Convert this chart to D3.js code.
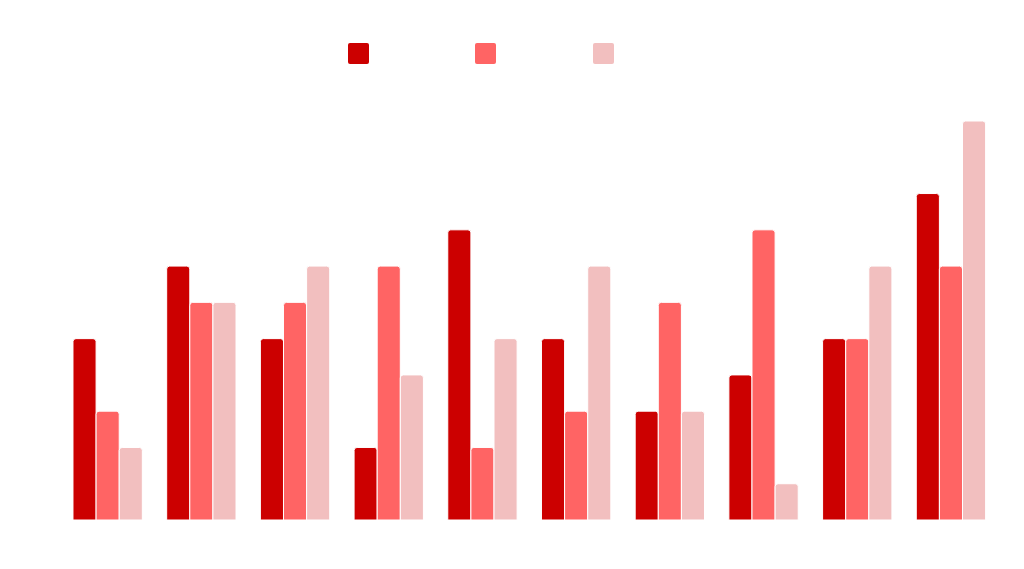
<!DOCTYPE html>
<html><head><meta charset="utf-8">
<script src="https://cdn.jsdelivr.net/npm/d3@7"></script>
<style>html,body{margin:0;padding:0;background:#fff;}svg{display:block;}</style>
</head><body>
<svg id="chart" width="1024" height="569"></svg>
<script>
const categories = ["1","2","3","4","5","6","7","8","9","10"];
const seriesNames = ["A","B","C"];
const seriesA = [5,7,5,2,8,5,3,4,5,9];
const seriesB = [3,6,6,7,2,3,6,8,5,7];
const seriesC = [2,6,7,4,5,7,3,1,7,11];
const colors = ["#cc0000","#ff6464","#f2bfbf"];
const series = [seriesA, seriesB, seriesC];

const svg = d3.select("#chart");
const x0 = d3.scaleBand().domain(categories).range([60.8, 997.8]).paddingInner(0.26).paddingOuter(0.13);
const x1 = d3.scaleBand().domain(d3.range(series.length)).range([0, x0.bandwidth()]);
const y = d3.scaleLinear().domain([0, 11]).range([520, 121]);

function topRounded(x, yTop, w, h, r) {
  r = Math.min(r, w/2, h);
  return `M${x},${yTop+h}V${yTop+r}Q${x},${yTop} ${x+r},${yTop}H${x+w-r}Q${x+w},${yTop} ${x+w},${yTop+r}V${yTop+h}Z`;
}

const g = svg.append("g");
categories.forEach((c, i) => {
  series.forEach((s, k) => {
    const bx = x0(c) + x1(k);
    const yt = y(s[i]);
    g.append("path")
      .attr("d", topRounded(bx, yt, x1.bandwidth(), y(0) - yt, 3))
      .attr("fill", colors[k])
      .attr("stroke", "#fff")
      .attr("stroke-width", 1);
  });
});

const legendX = [348, 475, 593];
const leg = svg.append("g");
seriesNames.forEach((n, k) => {
  leg.append("rect").attr("x", legendX[k]).attr("y", 43).attr("width", 21).attr("height", 21)
    .attr("rx", 2).attr("fill", colors[k]);
});
</script>
</body></html>
